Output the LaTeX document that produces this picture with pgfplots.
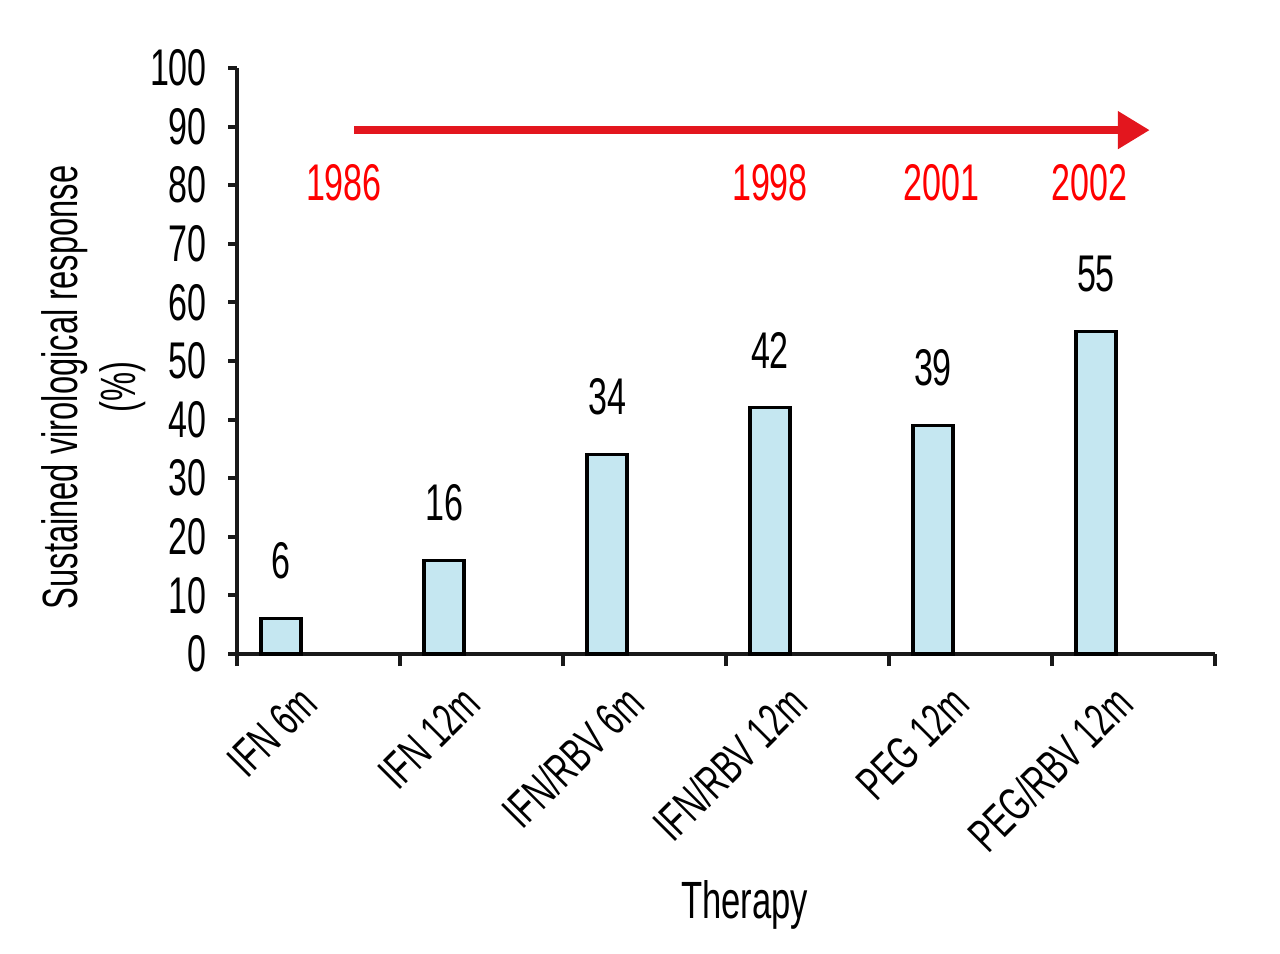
\documentclass[border=0pt]{standalone}
\usepackage{pgfplots}
\pgfplotsset{compat=1.18}
\usepackage{fontspec}
\setmainfont[FakeStretch=0.66]{Liberation Sans}
\usetikzlibrary{arrows.meta}
\definecolor{barblue}{HTML}{C5E7F1}
\definecolor{arrowred}{HTML}{E3161E}
\definecolor{yearred}{HTML}{FF0000}
\newcommand{\fs}{\fontsize{12.9pt}{15pt}\selectfont}
\newcommand{\fx}{\fontsize{11.8pt}{14pt}\selectfont}
\newcommand{\fy}{\fontsize{12.4pt}{14.5pt}\selectfont}
\newcommand{\fl}{\fontsize{13.1pt}{15pt}\selectfont}
\begin{document}
\begin{tikzpicture}
\useasboundingbox (-59.25pt,-74.75pt) rectangle (260.75pt,163.5pt);
\begin{axis}[
  at={(0,0)}, anchor=south west,
  scale only axis, width=244.5pt, height=146.5pt,
  xmin=0, xmax=6, ymin=0, ymax=100,
  axis lines=left, axis line style={-, line width=1pt, color=black!90},
  /pgf/number format/assume math mode=true,
  ytick={0,10,...,100},
  xtick={0.5,1.5,...,5.5},
  xticklabels={IFN 6m, IFN 12m, IFN/RBV 6m, IFN/RBV 12m, PEG 12m, PEG/RBV 12m},
  major x tick style={draw=none},
  minor xtick={0,1,...,6},
  tick align=outside,
  major tick length=2.25pt, minor tick length=3pt,
  every tick/.style={line width=1pt, color=black!90},
  yticklabel style={font=\fs, xshift=-1.75pt},
  xticklabel style={font=\fx, xshift=0pt, yshift=-5.6pt, rotate=45, anchor=east},
  ylabel={Sustained virological response\\(\%)},
  ylabel style={font=\fy, align=center, at={(axis description cs:-0.147,0.455)}, anchor=center},
  xlabel={Therapy},
  xlabel style={font=\fl, at={(axis description cs:0.519,-0.428)}, anchor=center},
  clip=false,
]
\addplot[ybar, bar width=10pt, draw=black, line width=0.8pt, fill=barblue,
  nodes near coords, nodes near coords style={font=\fs, anchor=south, inner sep=0pt, yshift=9.5pt}]
  coordinates {(0.27,6) (1.27,16) (2.27,34) (3.27,42) (4.27,39) (5.27,55)};
\draw[arrowred, line width=2pt, -{Triangle[length=8pt,width=9pt]}] (axis cs:0.72,89.4) -- (axis cs:5.6,89.4);
\node[yearred, font=\fs] at (axis cs:0.656,80.5) {1986};
\node[yearred, font=\fs] at (axis cs:3.27,80.5) {1998};
\node[yearred, font=\fs] at (axis cs:4.32,80.5) {2001};
\node[yearred, font=\fs] at (axis cs:5.23,80.5) {2002};
\end{axis}
\end{tikzpicture}
\end{document}
